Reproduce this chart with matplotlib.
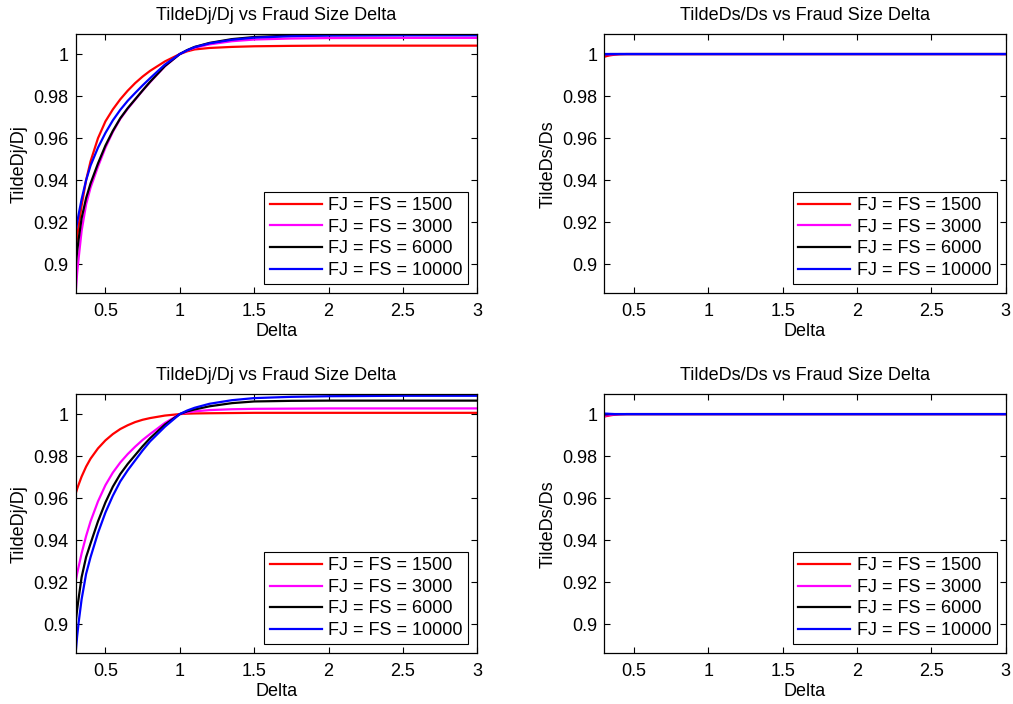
import matplotlib.pyplot as plt

plt.rcParams['font.family'] = ['Liberation Sans', 'DejaVu Sans']

# fraud size delta sample points
delta = [0.30, 0.31, 0.32, 0.34, 0.37, 0.40, 0.45, 0.50, 0.55, 0.60, 0.65, 0.70, 0.75,
         0.80, 0.90, 1.00, 1.05, 1.10, 1.20, 1.35, 1.50, 1.75, 2.00, 2.50, 3.00]

labels = ['FJ = FS = 1500', 'FJ = FS = 3000', 'FJ = FS = 6000', 'FJ = FS = 10000']
colors = ['#ff0000', '#ff00ff', '#000000', '#0000ff']

# TildeDj/Dj, first case
dj1_1500 = [0.9075, 0.9133, 0.9185, 0.9280, 0.9400, 0.9490, 0.9600, 0.9680, 0.9737, 0.9785, 0.9826, 0.9862, 0.9893,
            0.9920, 0.9965, 1.0000, 1.0013, 1.0022, 1.0029, 1.0034, 1.0037, 1.0039, 1.0040, 1.0040, 1.0040]
dj1_3000 = [0.8865, 0.8960, 0.9030, 0.9160, 0.9285, 0.9365, 0.9465, 0.9555, 0.9630, 0.9692, 0.9740, 0.9783, 0.9826,
            0.9866, 0.9942, 1.0000, 1.0017, 1.0030, 1.0046, 1.0061, 1.0069, 1.0074, 1.0076, 1.0077, 1.0077]
dj1_6000 = [0.8990, 0.9063, 0.9120, 0.9220, 0.9315, 0.9385, 0.9480, 0.9565, 0.9635, 0.9695, 0.9743, 0.9785, 0.9827,
            0.9868, 0.9943, 1.0000, 1.0019, 1.0034, 1.0053, 1.0071, 1.0081, 1.0088, 1.0090, 1.0091, 1.0091]
dj1_10000 = [0.9155, 0.9199, 0.9238, 0.9310, 0.9400, 0.9470, 0.9555, 0.9625, 0.9685, 0.9735, 0.9778, 0.9815, 0.9851,
             0.9885, 0.9950, 1.0000, 1.0018, 1.0033, 1.0051, 1.0068, 1.0078, 1.0085, 1.0088, 1.0089, 1.0089]

# TildeDs/Ds, first case
ds1_1500 = [0.9987, 0.9989, 0.9991, 0.9994, 0.9997, 0.9999, 1.0000, 1.0000, 1.0000, 1.0000, 1.0000, 1.0000, 1.0000,
            1.0000, 1.0000, 1.0000, 1.0000, 1.0000, 1.0000, 1.0000, 1.0000, 1.0000, 1.0000, 1.0000, 1.0000]
ds1_3000 = [0.9995, 0.9996, 0.9997, 0.9998, 0.9999, 1.0000, 1.0000, 1.0000, 1.0000, 1.0000, 1.0000, 1.0000, 1.0000,
            1.0000, 1.0000, 1.0000, 1.0000, 1.0000, 1.0000, 1.0000, 1.0000, 1.0000, 1.0000, 1.0000, 1.0000]
ds1_6000 = [0.9999, 0.9999, 0.9999, 1.0000, 1.0000, 1.0000, 1.0000, 1.0000, 1.0000, 1.0000, 1.0000, 1.0000, 1.0000,
            1.0000, 1.0000, 1.0000, 1.0000, 1.0000, 1.0000, 1.0000, 1.0000, 1.0000, 1.0000, 1.0000, 1.0000]
ds1_10000 = [1.0000, 1.0000, 1.0000, 1.0000, 1.0000, 1.0000, 1.0000, 1.0000, 1.0000, 1.0000, 1.0000, 1.0000, 1.0000,
             1.0000, 1.0000, 1.0000, 1.0000, 1.0000, 1.0000, 1.0000, 1.0000, 1.0000, 1.0000, 1.0000, 1.0000]

# TildeDj/Dj, second case
dj2_1500 = [0.9622, 0.9645, 0.9665, 0.9703, 0.9750, 0.9788, 0.9837, 0.9875, 0.9905, 0.9929, 0.9947, 0.9962, 0.9973,
            0.9981, 0.9993, 1.0000, 1.0002, 1.0003, 1.0004, 1.0005, 1.0006, 1.0006, 1.0006, 1.0006, 1.0006]
dj2_3000 = [0.9205, 0.9243, 0.9275, 0.9338, 0.9420, 0.9490, 0.9585, 0.9662, 0.9722, 0.9770, 0.9810, 0.9845, 0.9877,
            0.9905, 0.9958, 1.0000, 1.0008, 1.0013, 1.0019, 1.0023, 1.0025, 1.0026, 1.0027, 1.0027, 1.0027]
dj2_6000 = [0.9008, 0.9072, 0.9125, 0.9225, 0.9320, 0.9385, 0.9490, 0.9580, 0.9655, 0.9715, 0.9763, 0.9805, 0.9847,
            0.9885, 0.9950, 1.0000, 1.0013, 1.0022, 1.0037, 1.0052, 1.0060, 1.0063, 1.0064, 1.0064, 1.0064]
dj2_10000 = [0.8866, 0.8945, 0.9010, 0.9120, 0.9240, 0.9320, 0.9435, 0.9532, 0.9612, 0.9680, 0.9733, 0.9780, 0.9827,
             0.9870, 0.9940, 1.0000, 1.0017, 1.0030, 1.0049, 1.0066, 1.0076, 1.0082, 1.0085, 1.0087, 1.0087]

# TildeDs/Ds, second case
ds2_1500 = [0.9988, 0.9990, 0.9991, 0.9994, 0.9997, 0.9999, 1.0000, 1.0000, 1.0000, 1.0000, 1.0000, 1.0000, 1.0000,
            1.0000, 1.0000, 1.0000, 1.0000, 1.0000, 1.0000, 1.0000, 1.0000, 1.0000, 1.0000, 1.0000, 1.0000]
ds2_3000 = [0.9991, 0.9993, 0.9994, 0.9996, 0.9998, 0.9999, 1.0000, 1.0000, 1.0000, 1.0000, 1.0000, 1.0000, 1.0000,
            1.0000, 1.0000, 1.0000, 1.0000, 1.0000, 1.0000, 1.0000, 1.0000, 1.0000, 1.0000, 1.0000, 1.0000]
ds2_6000 = [0.9998, 0.9999, 0.9999, 1.0000, 1.0000, 1.0000, 1.0000, 1.0000, 1.0000, 1.0000, 1.0000, 1.0000, 1.0000,
            1.0000, 1.0000, 1.0000, 1.0000, 1.0000, 1.0000, 1.0000, 1.0000, 1.0000, 1.0000, 1.0000, 1.0000]
ds2_10000 = [1.0003, 1.0002, 1.0002, 1.0001, 1.0000, 1.0000, 1.0000, 1.0000, 1.0000, 1.0000, 1.0000, 1.0000, 1.0000,
             1.0000, 1.0000, 1.0000, 1.0000, 1.0000, 1.0000, 1.0000, 1.0000, 1.0000, 1.0000, 1.0000, 1.0000]

xticks = [0.5, 1, 1.5, 2, 2.5, 3]
xticklabels = ['0.5', '1', '1.5', '2', '2.5', '3']
yticks = [0.9, 0.92, 0.94, 0.96, 0.98, 1.0]
yticklabels = ['0.9', '0.92', '0.94', '0.96', '0.98', '1']

panels = [
    ([dj1_1500, dj1_3000, dj1_6000, dj1_10000], 'TildeDj/Dj vs Fraud Size Delta', 'TildeDj/Dj'),
    ([ds1_1500, ds1_3000, ds1_6000, ds1_10000], 'TildeDs/Ds vs Fraud Size Delta', 'TildeDs/Ds'),
    ([dj2_1500, dj2_3000, dj2_6000, dj2_10000], 'TildeDj/Dj vs Fraud Size Delta', 'TildeDj/Dj'),
    ([ds2_1500, ds2_3000, ds2_6000, ds2_10000], 'TildeDs/Ds vs Fraud Size Delta', 'TildeDs/Ds'),
]
rects = [
    [0.0747, 0.5834, 0.3964, 0.3679],
    [0.5965, 0.5834, 0.3963, 0.3679],
    [0.0747, 0.0720, 0.3964, 0.3679],
    [0.5965, 0.0720, 0.3963, 0.3679],
]

fs = 13
fig = plt.figure(figsize=(10.13, 7.04), dpi=100)
for (series, title, ylab), rect in zip(panels, rects):
    ax = fig.add_axes(rect)
    for y, c, lab in zip(series, colors, labels):
        ax.plot(delta, y, color=c, lw=1.6, label=lab)
    ax.set_xlim(0.3, 3)
    ax.set_ylim(0.8863, 1.0094)
    ax.set_xticks(xticks)
    ax.set_xticklabels(xticklabels)
    ax.set_yticks(yticks)
    ax.set_yticklabels(yticklabels)
    ax.tick_params(direction='in', top=True, right=True, length=4, width=0.8,
                   labelsize=fs)
    ax.tick_params(axis='x', pad=7)
    ax.tick_params(axis='y', pad=5)
    for sp in ax.spines.values():
        sp.set_linewidth(0.9)
    ax.set_title(title, fontsize=fs, pad=10)
    ax.set_xlabel('Delta', fontsize=fs, labelpad=2)
    ax.set_ylabel(ylab, fontsize=fs, labelpad=4)
    leg = ax.legend(loc='lower right', fontsize=fs, fancybox=False, framealpha=1,
                    edgecolor='black', borderaxespad=0.5, borderpad=0.3,
                    handlelength=2.9, handletextpad=0.35, labelspacing=0.25)
    leg.get_frame().set_linewidth(0.8)

fig.savefig('out.png', dpi=100)
